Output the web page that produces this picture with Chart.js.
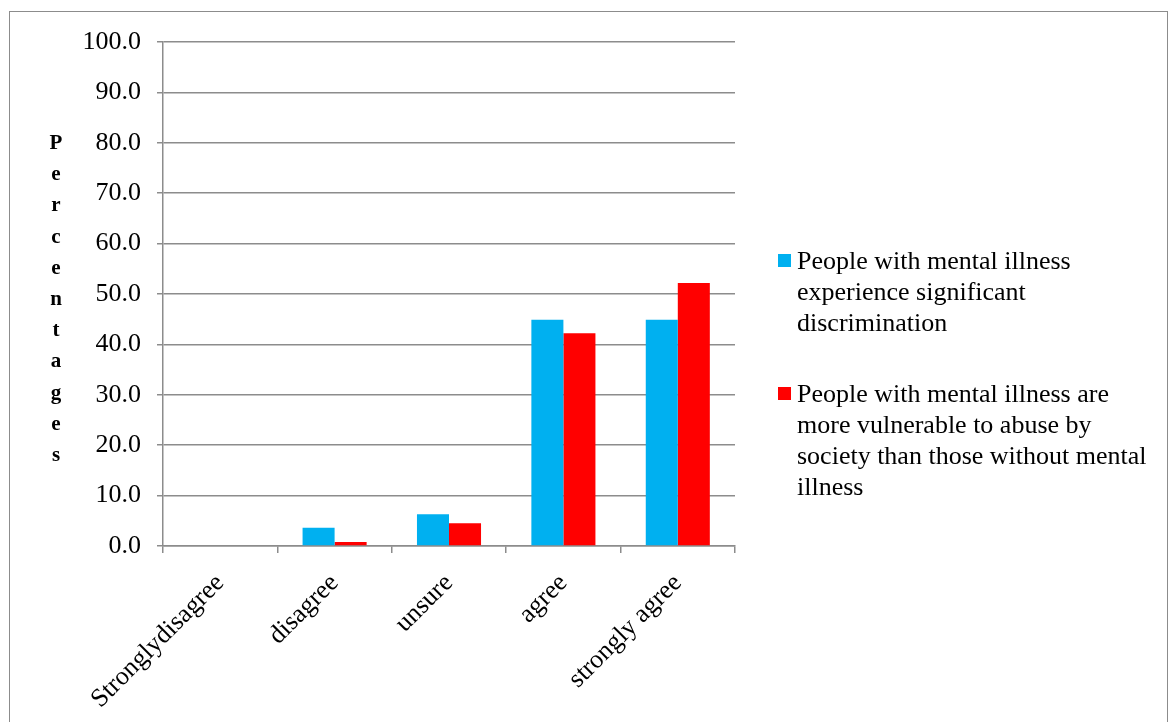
<!DOCTYPE html>
<html>
<head>
<meta charset="utf-8">
<script src="https://cdn.jsdelivr.net/npm/chart.js@4"></script>
<style>
  html, body { margin: 0; padding: 0; background: #fff; }
  #wrap { position: relative; width: 1170px; height: 722px; overflow: hidden; font-family: "Liberation Serif", "DejaVu Serif", serif; }
  #frame { position: absolute; left: 9px; top: 11px; width: 1159px; height: 760px; border: 1.5px solid #8c8c8c; box-sizing: border-box; }
  #chart { position: absolute; left: 0; top: 0; }
  #ytitle { position: absolute; left: 45px; top: 127px; width: 22px; text-align: center; font-weight: bold; font-size: 21px; line-height: 31.2px; color: #000; }
  #legend { position: absolute; left: 778px; top: 245px; width: 385px; font-size: 26px; line-height: 31px; color: #000; }
  .item { position: relative; padding-left: 19px; margin-bottom: 40px; }
  .sw { position: absolute; left: 0; top: 9px; width: 13px; height: 13px; }
</style>
</head>
<body>
<div id="wrap">
  <div id="frame"></div>
  <canvas id="chart" width="1170" height="722"></canvas>
  <div id="ytitle"></div>
  <div id="legend"></div>
</div>
<script>
// 카테고리 / 시리즈 값
const categories = ['Stronglydisagree', 'disagree', 'unsure', 'agree', 'strongly agree'];
const seriesNames = [
  'People with mental illness experience significant discrimination',
  'People with mental illness are more vulnerable to abuse by society than those without mental illness',
];
const discrimination = [0, 3.6, 6.3, 44.9, 44.9];
const vulnerable = [0, 0.8, 4.5, 42.2, 52.2];
const colors = ['#00b0f0', '#ff0000'];
const yTicks = [0, 10, 20, 30, 40, 50, 60, 70, 80, 90, 100];
const yTitle = 'Percentages';

const FONT = '"Liberation Serif", "DejaVu Serif", serif';

document.getElementById('ytitle').innerHTML = yTitle.split('').join('<br>');
document.getElementById('legend').innerHTML = seriesNames.map((n, i) =>
  `<div class="item"><span class="sw" style="background:${colors[i]}"></span>${n}</div>`).join('');

new Chart(document.getElementById('chart'), {
  type: 'bar',
  data: {
    labels: categories,
    datasets: [
      { label: seriesNames[0], data: discrimination, backgroundColor: colors[0] },
      { label: seriesNames[1], data: vulnerable, backgroundColor: colors[1] },
    ],
  },
  options: {
    responsive: false,
    animation: false,
    layout: { padding: { left: 0, right: 435, top: 42, bottom: 0 } },
    plugins: { legend: { display: false }, tooltip: { enabled: false } },
    datasets: { bar: { categoryPercentage: 0.56, barPercentage: 1 } },
    scales: {
      x: {
        grid: { display: true, drawOnChartArea: false, offset: true, color: '#8c8c8c', lineWidth: 1.5, tickLength: 7 },
        border: { color: '#8c8c8c', width: 1.5 },
        ticks: { color: '#000', font: { family: FONT, size: 26 }, minRotation: 45, maxRotation: 45, padding: 15, autoSkip: false },
        afterFit: (s) => { s.height = 176; },
      },
      y: {
        min: 0, max: 100,
        afterBuildTicks: (s) => { s.ticks = yTicks.map((v) => ({ value: v })); },
        grid: { color: '#8c8c8c', lineWidth: 1.5, tickLength: 6 },
        border: { color: '#8c8c8c', width: 1.5 },
        ticks: { color: '#000', font: { family: FONT, size: 26 }, padding: 16, callback: (v) => Number(v).toFixed(1) },
        afterFit: (s) => { s.width = 163; },
      },
    },
  },
});
</script>
</body>
</html>
